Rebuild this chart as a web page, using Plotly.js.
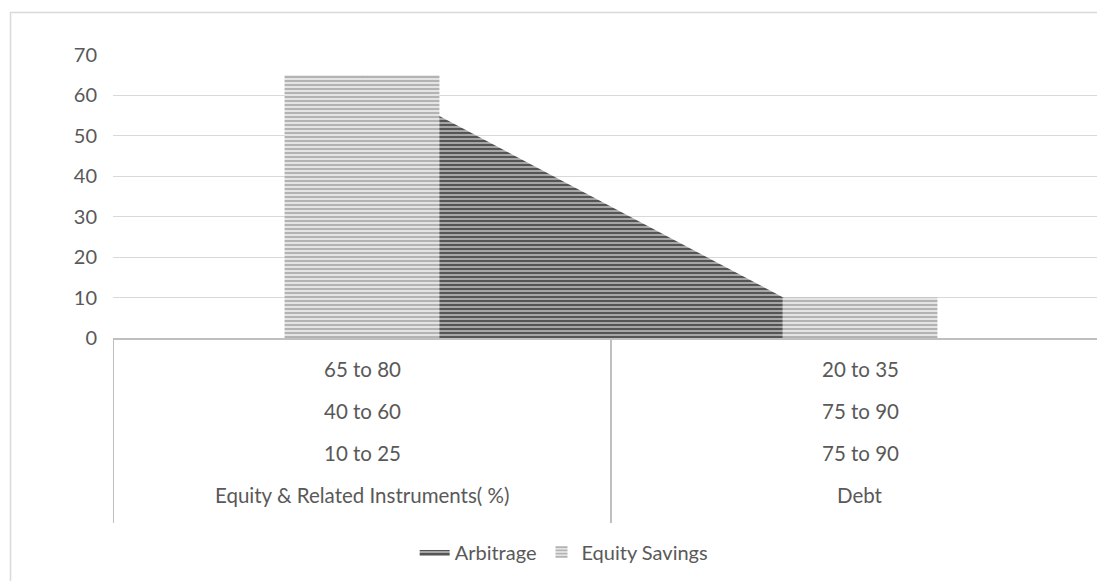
<!DOCTYPE html>
<html>
<head>
<meta charset="utf-8">
<script src="https://cdn.plot.ly/plotly-3.0.1.min.js"></script>
<style>
html,body{margin:0;padding:0;background:#fff;}
#chart{width:1097px;height:581px;}
</style>
</head>
<body>
<div id="chart"></div>
<script>
// Category levels (top row to bottom row)
var level1 = ["65 to 80", "20 to 35"];
var level2 = ["40 to 60", "75 to 90"];
var level3 = ["10 to 25", "75 to 90"];
var level4 = ["Equity & Related Instruments( %)", "Debt"];

// Series
var seriesNames = ["Arbitrage", "Equity Savings"];
var arbitrage = [65, 0];
var equitySavings = [65, 10];

var xPos = level4.map(function (_, i) { return i; });

var textColor = "#595959";
var fontFam = "Lato, 'Open Sans', sans-serif";

var traces = [
  {
    type: "scatter",
    name: seriesNames[0],
    x: xPos,
    y: arbitrage,
    xaxis: "x", yaxis: "y",
    mode: "lines",
    line: {width: 0, color: "#7f7f7f"},
    fill: "tozeroy",
    fillcolor: "#a6a6a6",
    fillpattern: {shape: "-", bgcolor: "#a6a6a6", fgcolor: "#555555", size: 4, solidity: 0.5},
    hoverinfo: "skip"
  },
  {
    type: "bar",
    name: seriesNames[1],
    x: xPos,
    y: equitySavings,
    xaxis: "x2", yaxis: "y2",
    width: 0.311,
    marker: {
      color: "#e4e4e4",
      line: {width: 0},
      pattern: {shape: "-", bgcolor: "#e4e4e4", fgcolor: "#b3b3b3", size: 4, solidity: 0.5}
    },
    hoverinfo: "skip"
  }
];

// pixel->paper helpers (plot area top 55, bottom 338)
var plotTop = 55, plotBottom = 338, plotH = plotBottom - plotTop;
function py(pix) { return (plotBottom - pix) / plotH; }
var plotLeft = 113, plotW = 1097 - plotLeft;
function px(pix) { return (pix - plotLeft) / plotW; }

var rows = [level1, level2, level3, level4];
var rowY = [369, 411, 453, 495];
var annotations = [];
rows.forEach(function (row, r) {
  row.forEach(function (label, i) {
    annotations.push({
      text: label, x: xPos[i], xref: "x", y: py(rowY[r]), yref: "paper",
      showarrow: false, xanchor: "center", yanchor: "middle",
      font: {family: fontFam, size: 20.5, color: textColor}
    });
  });
});

var shapes = [
  // outer chart border
  {type: "rect", xref: "paper", yref: "paper", x0: px(10.5), x1: px(1200), y0: py(700), y1: py(12.5),
   line: {color: "#d9d9d9", width: 1.5}, fillcolor: "rgba(0,0,0,0)", layer: "below"},
  // category table separators
  {type: "line", xref: "x", yref: "paper", x0: -0.5, x1: -0.5, y0: 0, y1: py(523),
   line: {color: "#bfbfbf", width: 2}},
  {type: "line", xref: "x", yref: "paper", x0: 0.5, x1: 0.5, y0: 0, y1: py(523),
   line: {color: "#bfbfbf", width: 2}}
];

var xRange = [-0.5, -0.5 + plotW / 498];

var layout = {
  width: 1097, height: 581,
  margin: {l: plotLeft, r: 0, t: plotTop, b: 581 - plotBottom, pad: 0},
  paper_bgcolor: "#ffffff",
  plot_bgcolor: "#ffffff",
  showlegend: true,
  legend: {
    orientation: "h", x: 0.458, xanchor: "center", y: py(552), yanchor: "middle",
    font: {family: fontFam, size: 20, color: textColor},
    itemwidth: 30, traceorder: "normal"
  },
  xaxis: {
    range: xRange,
    showticklabels: false, showgrid: false, zeroline: false,
    showline: true, linecolor: "#bfbfbf", linewidth: 2, ticks: "",
    fixedrange: true
  },
  yaxis: {
    range: [0, 70], dtick: 10, tick0: 0,
    showgrid: true, gridcolor: "#d9d9d9", gridwidth: 1,
    zeroline: false, showline: false, ticks: "",
    ticklabelstandoff: 15,
    tickfont: {family: fontFam, size: 20, color: textColor},
    fixedrange: true
  },
  xaxis2: {
    overlaying: "x", range: xRange, visible: false, fixedrange: true
  },
  yaxis2: {
    overlaying: "y", range: [0, 70], visible: false, fixedrange: true
  },
  annotations: annotations,
  shapes: shapes
};

Plotly.newPlot("chart", traces, layout, {displayModeBar: false, staticPlot: true});
</script>
</body>
</html>
